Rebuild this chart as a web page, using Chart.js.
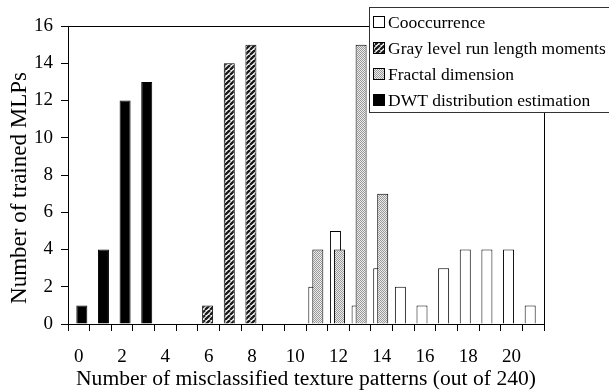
<!DOCTYPE html>
<html>
<head>
<meta charset="utf-8">
<script src="https://cdn.jsdelivr.net/npm/chart.js@4/dist/chart.umd.min.js"></script>
<style>
  html, body { margin: 0; padding: 0; background: #fff; }
  #wrap { width: 609px; height: 392px; }
</style>
</head>
<body>
<div id="wrap"><canvas id="c" width="609" height="392"></canvas></div>
<script>
// ---- data ----
const categories = ['0','1','2','3','4','5','6','7','8','9','10','11','12','13','14','15','16','17','18','19','20','21'];
const cooccurrence   = [null,null,null,null,null,null,null,null,null,null,null,2,5,1,3,2,1,3,4,4,4,1];
const grayLevelRun   = [null,null,null,null,null,null,1,14,15,null,null,null,null,null,null,null,null,null,null,null,null,null];
const fractalDim     = [null,null,null,null,null,null,null,null,null,null,null,4,4,15,7,null,null,null,null,null,null,null];
const dwtEstimation  = [1,4,12,13,null,null,null,null,null,null,null,null,null,null,null,null,null,null,null,null,null,null];
const seriesLabels = ['Cooccurrence','Gray level run length moments','Fractal dimension','DWT distribution estimation'];
const yTicks = [0,2,4,6,8,10,12,14,16];
const xTitle = 'Number of misclassified texture patterns (out of 240)';
const yTitle = 'Number of trained MLPs';

// ---- fill patterns ----
function hatchPattern() {
  const c = document.createElement('canvas'); c.width = 5; c.height = 5;
  const g = c.getContext('2d');
  g.fillStyle = '#ffffff'; g.fillRect(0,0,5,5);
  g.strokeStyle = '#1a1a1a'; g.lineWidth = 2.3;
  for (let k = -5; k <= 10; k += 5) { g.beginPath(); g.moveTo(k, 5); g.lineTo(k + 5, 0); g.stroke(); }
  return g.createPattern(c, 'repeat');
}
function stipplePattern() {
  const c = document.createElement('canvas'); c.width = 2; c.height = 2;
  const g = c.getContext('2d');
  g.fillStyle = '#ebebeb'; g.fillRect(0,0,2,2);
  g.fillStyle = '#9a9a9a'; g.fillRect(0,0,1,1); g.fillRect(1,1,1,1);
  return g.createPattern(c, 'repeat');
}
const fills = ['#ffffff', hatchPattern(), stipplePattern(), '#000000'];
const seriesData = [cooccurrence, grayLevelRun, fractalDim, dwtEstimation];

const FONT = 'Liberation Serif, Times New Roman, serif';

// draw datasets in index order (later series over earlier) + plot frame
const forwardDraw = {
  id: 'forwardDraw',
  beforeDatasetsDraw(chart) {
    const { ctx, chartArea: a } = chart;
    ctx.save();
    ctx.beginPath(); ctx.rect(a.left, a.top - 1, a.right - a.left, a.bottom - a.top + 1); ctx.clip();
    chart.data.datasets.forEach((d, i) => { if (chart.isDatasetVisible(i)) chart.getDatasetMeta(i).controller.draw(); });
    ctx.restore();
    ctx.save();
    ctx.strokeStyle = '#000'; ctx.lineWidth = 1;
    ctx.beginPath();
    ctx.moveTo(a.left, Math.round(a.top) + 0.5);
    ctx.lineTo(Math.round(a.right) + 0.5, Math.round(a.top) + 0.5);
    ctx.lineTo(Math.round(a.right) + 0.5, a.bottom);
    ctx.stroke();
    ctx.restore();
    return false;
  }
};

// y-axis title, placed as in the reference
const yAxisTitle = {
  id: 'yAxisTitle',
  afterDraw(chart) {
    const { ctx, chartArea: a } = chart;
    ctx.save();
    ctx.translate(26, (a.top + a.bottom) / 2 + 13);
    ctx.rotate(-Math.PI / 2);
    ctx.font = '23px ' + FONT; ctx.fillStyle = '#000';
    ctx.textAlign = 'center'; ctx.textBaseline = 'alphabetic';
    ctx.fillText(yTitle, 0, 0);
    ctx.restore();
  }
};

// boxed legend at the top right
const boxLegend = {
  id: 'boxLegend',
  afterDraw(chart) {
    const { ctx, chartArea: a } = chart;
    const left = a.right - 175, top = 7, w = chart.width - left + 5, h = 105;
    ctx.save();
    ctx.fillStyle = '#fff'; ctx.fillRect(left, top, w, h);
    ctx.strokeStyle = '#333'; ctx.lineWidth = 1;
    ctx.strokeRect(left + 0.5, top + 0.5, w, h);
    ctx.font = '17.5px ' + FONT; ctx.textBaseline = 'middle'; ctx.fillStyle = '#000';
    chart.data.datasets.forEach((d, i) => {
      const cy = 22 + i * 26;
      ctx.fillStyle = d.backgroundColor; ctx.fillRect(left + 4, cy - 6, 12, 12);
      ctx.strokeStyle = '#000'; ctx.strokeRect(left + 4.5, cy - 5.5, 11, 11);
      ctx.fillStyle = '#000'; ctx.fillText(d.label, left + 19, cy + 1);
    });
    ctx.restore();
  }
};

new Chart(document.getElementById('c'), {
  type: 'bar',
  data: {
    labels: categories,
    datasets: seriesLabels.map((lab, i) => ({
      label: lab,
      data: seriesData[i],
      backgroundColor: fills[i],
      borderColor: '#000',
      borderWidth: 1,
      borderSkipped: 'bottom',
      categoryPercentage: 0.37,
      barPercentage: 5.5
    }))
  },
  options: {
    responsive: false,
    animation: false,
    events: [],
    layout: { padding: { top: 26, right: 65, left: 0, bottom: 0 } },
    plugins: { legend: { display: false }, tooltip: { enabled: false } },
    scales: {
      x: {
        offset: true,
        grid: { display: true, drawOnChartArea: false, offset: true, tickLength: 7, color: '#000', tickColor: '#000' },
        border: { display: true, color: '#000', width: 1 },
        ticks: {
          autoSkip: false, maxRotation: 0, minRotation: 0, color: '#000', padding: 15,
          font: { family: FONT, size: 19 },
          callback: function (v, i) { return i % 2 === 0 ? this.getLabelForValue(v) : ''; }
        },
        title: { display: true, text: xTitle, color: '#000', font: { family: FONT, size: 21.6 }, padding: { top: 0, bottom: 0 } },
        afterFit: s => { s.height = 68; }
      },
      y: {
        min: 0, max: 16,
        afterBuildTicks: s => { s.ticks = yTicks.map(v => ({ value: v })); },
        grid: { display: true, drawOnChartArea: false, tickLength: 7, color: '#000', tickColor: '#000' },
        border: { display: true, color: '#000', width: 1 },
        ticks: { color: '#000', padding: 8, font: { family: FONT, size: 19 } },
        title: { display: false, text: yTitle },
        afterFit: s => { s.width = 68; }
      }
    }
  },
  plugins: [forwardDraw, yAxisTitle, boxLegend]
});
</script>
</body>
</html>
